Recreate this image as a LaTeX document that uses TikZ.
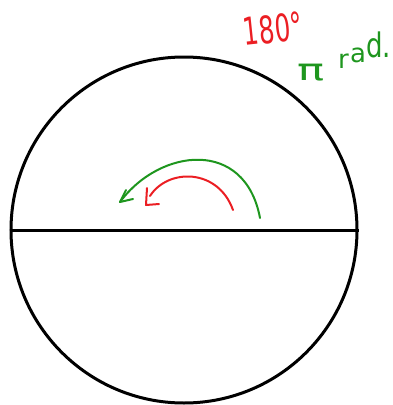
\documentclass[tikz,border=0pt]{standalone}
\usepackage{fontspec}
\setmainfont{DejaVu Sans}
\definecolor{penred}{RGB}{235,30,35}
\definecolor{pengreen}{RGB}{30,150,30}
\tikzset{
  ink/.style={line width=3pt, black},
  redpen/.style={line width=2pt, penred, line cap=round, line join=round},
  greenpen/.style={line width=2pt, pengreen, line cap=round, line join=round},
  greentext/.style={pengreen, inner sep=0pt, anchor=base west, font=\fontsize{26}{26}\selectfont},
}
\begin{document}
\begin{tikzpicture}[x=1pt,y=-1pt]
\useasboundingbox (0,0) rectangle (392,405);
\node[circle, draw, ink, minimum size=346pt, inner sep=0pt] (c) at (184,230) {};
\draw[ink] (c.west) -- (c.east);
% red arc
\coordinate (r1) at (233,210);
\coordinate (r2) at (150,196);
\draw[redpen] (r1) .. controls (218,168) and (168,168) .. (r2);
\coordinate (ra) at (147,188);
\coordinate (rb) at (146,205);
\coordinate (rc) at (159,204);
\draw[redpen] (ra) -- (rb) -- (rc);
% green arc
\coordinate (g1) at (260,218);
\coordinate (g2) at (120,202);
\draw[greenpen] (g1) .. controls (245,138) and (160,148) .. (g2);
\coordinate (ga) at (126,190);
\coordinate (gc) at (133,199);
\draw[greenpen] (ga) -- (g2) -- (gc);
% labels
\node[penred, font=\fontsize{38}{38}\selectfont, rotate=6, inner sep=0pt] (t1) at (273,29) {\scalebox{0.65}[1]{180°}};
\node[greentext, anchor=center, font=\fontsize{30}{30}\selectfont] (t2) at (311,73) {\scalebox{1.5}[1]{π}};
\node[greentext] (t3) at (338,68) {r};
\node[greentext] (t4) at (350,62) {a};
\node[greentext] (t5) at (366,57) {\scalebox{1}[1.3]{d.}};
\end{tikzpicture}
\end{document}
